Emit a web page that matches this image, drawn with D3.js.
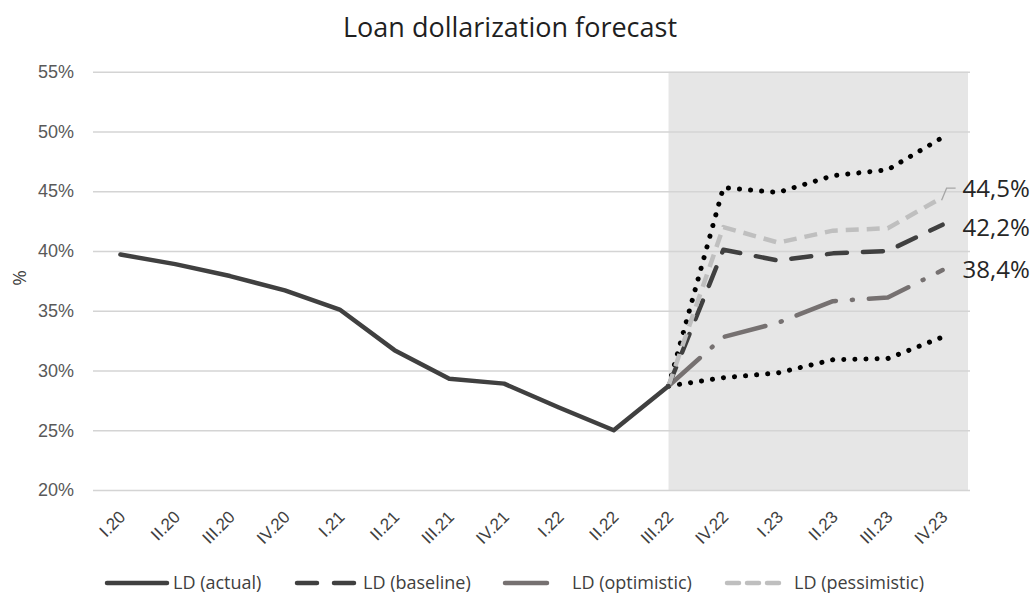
<!DOCTYPE html>
<html>
<head>
<meta charset="utf-8">
<script src="https://cdn.jsdelivr.net/npm/d3@7"></script>
<style>
  html, body { margin: 0; padding: 0; background: #ffffff; }
  svg { display: block; font-family: "Open Sans", "Noto Sans", sans-serif; }
</style>
</head>
<body>
<svg id="chart" width="1033" height="593"></svg>
<script>
// ---------- DATA ----------
const title = "Loan dollarization forecast";
const categories = ["I.20","II.20","III.20","IV.20","I.21","II.21","III.21","IV.21",
                    "I.22","II.22","III.22","IV.22","I.23","II.23","III.23","IV.23"];
const actualCategories = categories.slice(0, 11);
const forecastCategories = categories.slice(10);
const actualValues = [39.7, 38.9, 37.9, 36.7, 35.1, 31.7, 29.3, 28.9, 26.9, 25.0, 28.7];
const baselineValues = [28.7, 40.1, 39.2, 39.8, 40.0, 42.2];
const optimisticValues = [28.7, 32.8, 34.0, 35.8, 36.1, 38.4];
const pessimisticValues = [28.7, 42.0, 40.7, 41.7, 41.9, 44.5];
const upperBandValues = [28.7, 45.3, 44.9, 46.3, 46.8, 49.5];
const lowerBandValues = [28.7, 29.4, 29.8, 30.9, 31.0, 32.8];
const yTicks = [20, 25, 30, 35, 40, 45, 50, 55];
const legendLabels = ["LD (actual)", "LD (baseline)", "LD (optimistic)", "LD (pessimistic)"];
const yAxisTitle = "%";

// ---------- LAYOUT ----------
const svg = d3.select("#chart");
const plot = { left: 93, right: 970, top: 71.7, bottom: 490 };

const x = d3.scaleBand().domain(categories).range([plot.left, plot.right]);
const cx = c => x(c) + x.bandwidth() / 2;
const y = d3.scaleLinear().domain([20, 55]).range([plot.bottom, plot.top]);

// shaded forecast area
svg.append("rect")
  .attr("x", cx("III.22"))
  .attr("y", y(55))
  .attr("width", plot.right - 2 - cx("III.22"))
  .attr("height", y(20) - y(55))
  .attr("fill", "#e6e6e6");

// gridlines + y labels
const yAxis = d3.axisLeft(y).tickValues(yTicks).tickSize(-(plot.right - plot.left))
  .tickFormat(d => d + "%").tickPadding(19);
const gy = svg.append("g").attr("transform", `translate(${plot.left},0)`).call(yAxis);
gy.select(".domain").remove();
gy.selectAll(".tick line").attr("stroke", "#d4d4d4").attr("stroke-width", 1.4);
gy.selectAll(".tick text").attr("fill", "#595959").attr("font-size", 18);

// x labels
const xAxis = d3.axisBottom(x).tickSize(0).tickFormat(d => d);
const gx = svg.append("g").attr("transform", `translate(0,${plot.bottom})`).call(xAxis);
gx.select(".domain").remove();
gx.selectAll(".tick text")
  .attr("fill", "#404040")
  .attr("font-size", 17)
  .attr("text-anchor", "end")
  .attr("dy", 0)
  .attr("y", 0)
  .attr("transform", "translate(6,28) rotate(-45)");

// y title
svg.append("text")
  .attr("transform", `translate(26,278) rotate(-90)`)
  .attr("text-anchor", "middle")
  .attr("fill", "#404040")
  .attr("font-size", 19)
  .text(yAxisTitle);

// title
svg.append("text")
  .attr("x", 510).attr("y", 37)
  .attr("text-anchor", "middle")
  .attr("fill", "#1f1f1f")
  .attr("font-size", 27)
  .text(title);

// ---------- LINES ----------
const line = d3.line().x(d => cx(d.c)).y(d => y(d.v));
const pair = (cats, vals) => cats.map((c, i) => ({ c, v: vals[i] }));

const series = [
  { vals: lowerBandValues, cats: forecastCategories, color: "#000000", width: 5, dash: "0.1,11", cap: "round" },
  { vals: upperBandValues, cats: forecastCategories, color: "#000000", width: 5, dash: "0.1,11", cap: "round" },
  { vals: optimisticValues, cats: forecastCategories, color: "#767171", width: 4.5, dash: "42,16,1,16", cap: "round" },
  { vals: baselineValues, cats: forecastCategories, color: "#404040", width: 4.5, dash: "20,16", cap: "round" },
  { vals: pessimisticValues, cats: forecastCategories, color: "#bfbfbf", width: 4.5, dash: "13,8", cap: "butt" },
  { vals: actualValues, cats: actualCategories, color: "#404040", width: 4.5, dash: null, cap: "round" }
];

svg.append("g").selectAll("path").data(series).join("path")
  .attr("d", s => line(pair(s.cats, s.vals)))
  .attr("fill", "none")
  .attr("stroke", s => s.color)
  .attr("stroke-width", s => s.width)
  .attr("stroke-linejoin", "round")
  .attr("stroke-linecap", s => s.cap)
  .attr("stroke-dasharray", s => s.dash);

// ---------- END LABELS ----------
const fmt = v => d3.format(".1f")(v).replace(".", ",") + "%";
const lastC = categories[categories.length - 1];
const endLabels = [
  { v: pessimisticValues[pessimisticValues.length - 1], dy: -9, leader: true },
  { v: baselineValues[baselineValues.length - 1], dy: 3, leader: false },
  { v: optimisticValues[optimisticValues.length - 1], dy: 0, leader: false }
];
endLabels.forEach(l => {
  const px = cx(lastC), py = y(l.v);
  if (l.leader) {
    svg.append("path")
      .attr("d", `M${px - 1},${py + 3} L${px + 4},${py + l.dy} L${px + 13},${py + l.dy}`)
      .attr("fill", "none").attr("stroke", "#a6a6a6").attr("stroke-width", 1.3);
  }
  svg.append("text")
    .attr("x", px + 20).attr("y", py + l.dy)
    .attr("dy", "0.35em")
    .attr("fill", "#262626")
    .attr("font-size", 24)
    .text(fmt(l.v));
});

// ---------- LEGEND ----------
const legendY = 583;
const legendItems = [
  { x0: 107, x1: 167, tx: 173, color: "#404040", dash: null },
  { x0: 297, x1: 355, tx: 363, color: "#404040", dash: "20,17" },
  { x0: 505, x1: 547, tx: 572, color: "#767171", dash: null },
  { x0: 727, x1: 787, tx: 794, color: "#bfbfbf", dash: "12,8" }
];
legendItems.forEach((it, i) => {
  svg.append("line")
    .attr("x1", it.x0).attr("x2", it.x1).attr("y1", legendY).attr("y2", legendY)
    .attr("stroke", it.color).attr("stroke-width", 4.5)
    .attr("stroke-linecap", "round")
    .attr("stroke-dasharray", it.dash);
  svg.append("text")
    .attr("x", it.tx).attr("y", legendY).attr("dy", "0.35em")
    .attr("fill", "#404040").attr("font-size", 18)
    .text(legendLabels[i]);
});
</script>
</body>
</html>
